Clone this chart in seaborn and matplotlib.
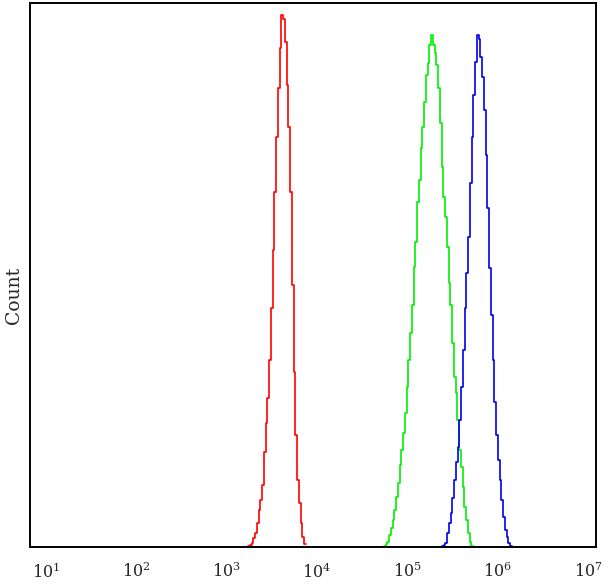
import numpy as np
import pandas as pd
import matplotlib
matplotlib.use("Agg")
import matplotlib.pyplot as plt
import seaborn as sns

# histogram counts per channel (log10 fluorescence)
binWidth = 0.0194  # decades per channel

redStart = 3.237
redCounts = [1, 2, 4, 9, 14, 24, 37, 47, 62, 95, 124, 149, 187, 239, 297, 355,
             410, 459, 499, 532, 528, 505, 462, 420, 355, 262, 175, 112, 67,
             44, 24, 10, 3]

greenStart = 4.740
greenCounts = [1, 3, 5, 12, 19, 27, 37, 50, 64, 82, 97, 114, 134, 160, 187,
               214, 242, 280, 305, 345, 367, 399, 420, 445, 472, 484, 502, 512,
               502, 494, 482, 459, 424, 380, 350, 330, 300, 264, 242, 204, 170,
               154, 127, 97, 80, 60, 40, 27, 14, 5, 1]

blueStart = 5.382
blueCounts = [1, 2, 4, 14, 24, 34, 49, 67, 85, 100, 127, 160, 197, 239, 274,
              310, 364, 410, 452, 485, 512, 508, 490, 470, 437, 392, 339, 279,
              232, 187, 145, 112, 87, 67, 47, 30, 17, 10, 4, 1]

decades = [1, 2, 3, 4, 5, 6, 7]
tickLabels = [f"$10^{{{d}}}$" for d in decades]

sns.set_style("white")
plt.rcParams["font.family"] = ["DejaVu Serif"]
plt.rcParams["mathtext.fontset"] = "dejavuserif"

fig = plt.figure(figsize=(6.06, 5.85), dpi=100)
ax = fig.add_axes([30 / 606, 1 - 547 / 585, 566 / 606, 544 / 585])

series = [(redStart, redCounts, "#ff0000"),
          (greenStart, greenCounts, "#00f000"),
          (blueStart, blueCounts, "#0000e6")]

for start, counts, colour in series:
    edges = start + binWidth * np.arange(len(counts) + 1)
    histData = pd.DataFrame({"channel": (edges[:-1] + edges[1:]) / 2,
                             "count": counts})
    sns.histplot(data=histData, x="channel", weights="count",
                 bins=edges.tolist(), element="step", fill=False,
                 color=colour, linewidth=1.2, ax=ax)

ax.set_xlim(0.823, 7.089)
ax.set_ylim(0, 544)
ax.set_xticks(decades)
ax.set_xticklabels(tickLabels, fontsize=11.5)
ax.set_yticks([])
ax.tick_params(axis="x", length=0, pad=11)
ax.set_xlabel("")
ax.set_ylabel("Count", fontsize=13.5)
ax.yaxis.set_label_coords(-0.013, 0.463)
for spine in ax.spines.values():
    spine.set_color("black")
    spine.set_linewidth(1.4)

fig.savefig("out.png", dpi=100)
